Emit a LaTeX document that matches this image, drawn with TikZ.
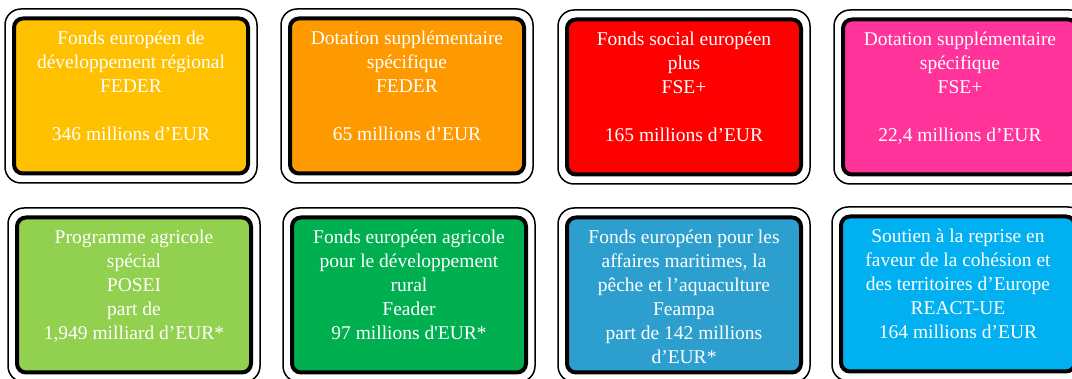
\documentclass[tikz,border=0pt]{standalone}
\usepackage{fontspec}
\setmainfont{Liberation Serif}[Ligatures=TeXOff]
\definecolor{cA}{HTML}{FFC000}
\definecolor{cB}{HTML}{FF9900}
\definecolor{cC}{HTML}{FF0000}
\definecolor{cD}{HTML}{FF3399}
\definecolor{cE}{HTML}{92D050}
\definecolor{cF}{HTML}{00B050}
\definecolor{cG}{HTML}{2C9FCF}
\definecolor{cH}{HTML}{00B0F0}
\tikzset{
  outerbox/.style={draw=black, line width=1.5pt, fill=white, rounded corners=16pt,
    minimum width=252pt, minimum height=174pt, inner sep=0pt},
  innerbox/.style={draw=black, line width=4pt, rounded corners=9pt,
    minimum width=234pt, minimum height=155pt, inner sep=0pt},
  boxtext/.style={text=white, align=center, inner sep=0pt, anchor=north,
    font=\fontsize{19.5}{24}\selectfont}
}
\newcommand{\fundbox}[5]{%
  \node[outerbox] (#1o) at (#2+126,#3+87) {};
  \node[innerbox, fill=#4] (#1i) at (#1o.center) {};
  \node[boxtext] (#1t) at ([yshift=-11pt]#1i.north) {\strut #5};
}
\begin{document}
\begin{tikzpicture}[x=1pt,y=-1pt]
\useasboundingbox (0,0) rectangle (1072,379);
\clip (0,0) rectangle (1072,379);
\fundbox{a}{5}{9}{cA}{Fonds européen de\\développement régional\\FEDER\\[24pt]346 millions d’EUR}
\fundbox{b}{281}{9}{cB}{Dotation supplémentaire\\spécifique\\FEDER\\[24pt]65 millions d’EUR}
\fundbox{c}{558}{10}{cC}{Fonds social européen\\plus\\FSE+\\[24pt]165 millions d’EUR}
\fundbox{d}{834}{10}{cD}{Dotation supplémentaire\\spécifique\\FSE+\\[24pt]22,4 millions d’EUR}
\fundbox{e}{8}{208}{cE}{Programme agricole\\spécial\\POSEI\\part de\\1,949 milliard d’EUR*}
\fundbox{f}{283}{208}{cF}{Fonds européen agricole\\pour le développement\\rural\\Feader\\97 millions d'EUR*}
\fundbox{g}{558}{208}{cG}{Fonds européen pour les\\affaires maritimes, la\\pêche et l’aquaculture\\Feampa\\part de 142 millions\\d’EUR*}
\fundbox{h}{832}{207}{cH}{Soutien à la reprise en\\faveur de la cohésion et\\des territoires d’Europe\\REACT-UE\\164 millions d’EUR}
\end{tikzpicture}
\end{document}
